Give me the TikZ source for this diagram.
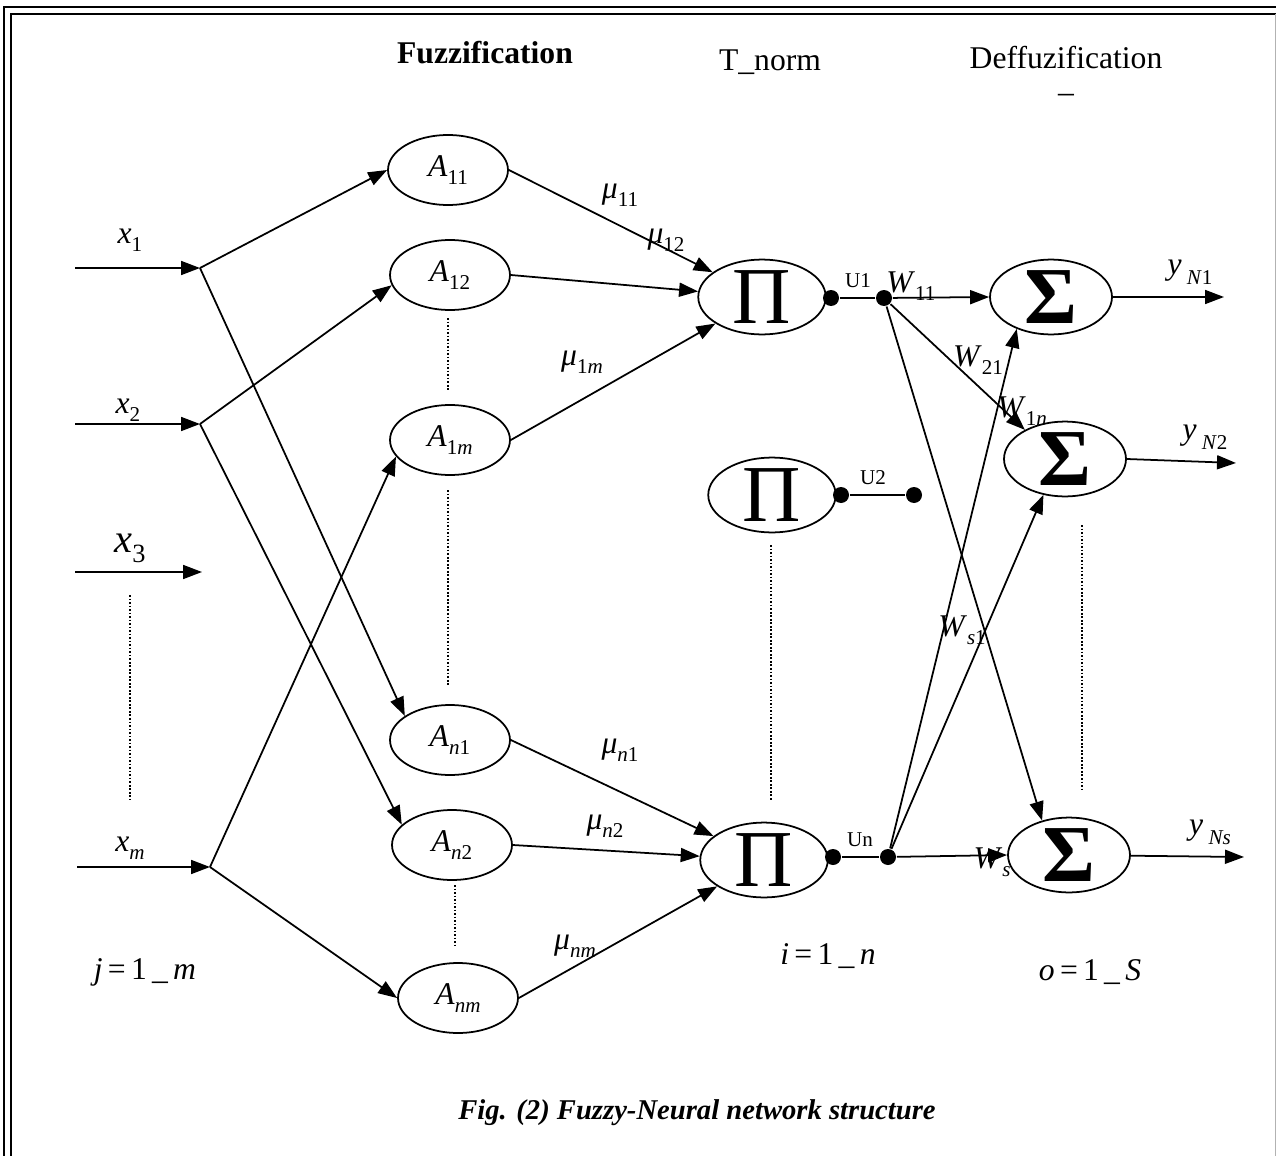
\documentclass[tikz,border=0pt]{standalone}
\usepackage{fontspec}
\setmainfont{Liberation Serif}
\usetikzlibrary{shapes.geometric,arrows.meta}

\newcommand{\isub}[2]{\textit{#1}\raisebox{-0.55ex}{\fontsize{12}{12}\selectfont #2}}

\begin{document}
\begin{tikzpicture}[x=0.02cm,y=-0.02cm,line width=1pt,
  every node/.style={font=\fontsize{18}{20}\selectfont},
  arr/.style={-{Triangle[length=0.38cm,width=0.28cm]}},
  memb/.style={draw,ellipse,fill=white,minimum width=2.4cm,minimum height=1.4cm,inner sep=0},
  prodn/.style={draw,ellipse,fill=white,minimum width=2.55cm,minimum height=1.48cm,inner sep=0,font=\fontsize{46}{46}\selectfont},
  sumn/.style={draw,ellipse,fill=white,minimum width=2.44cm,minimum height=1.4cm,inner sep=0,font=\fontsize{46}{46}\selectfont\bfseries},
  dot/.style={circle,fill,inner sep=0,minimum size=0.32cm},
  small/.style={font=\fontsize{12}{12}\selectfont},
  dotline/.style={line width=0.6pt,dash pattern=on 1pt off 1pt}]
% Fuzzy-neural network: fuzzification, T-norm and defuzzification layers
\useasboundingbox (0,0) rectangle (1276,1156);
\draw[line width=1.7pt] (4,1156) -- (4,7) -- (1276,7);
\draw[line width=1.1pt] (11,1156) -- (11,14) -- (1276,14);
\draw[gray!60,line width=0.5pt] (1275,14) -- (1275,1156);

\node (fuzz) at (485,53) {\textbf{Fuzzification}};
\node (tnorm) at (770,62) {T\_norm};
\node (defuzz) at (1066,58) {Deffuzification};
\node (dash) at (1066,98) {–};

% inputs
\coordinate (s1) at (75,268);
\coordinate (j1) at (200,268);
\coordinate (s2) at (75,424);
\coordinate (j2) at (200,424);
\coordinate (s3) at (75,572);
\coordinate (j3) at (202,572);
\coordinate (sm) at (77,867);
\coordinate (jm) at (210,867);
\node (x1) at (130,240) {\isub{x}{1}};
\node (x2) at (128,410) {\isub{x}{2}};
\node[font=\fontsize{23}{23}\selectfont] (x3) at (130,548) {\textit{x}\raisebox{-0.55ex}{\fontsize{15}{15}\selectfont 3}};
\node (xm) at (130,848) {\isub{x}{\textit{m}}};
\node (jlab) at (145,972) {\textit{j}\,=\,1\,\_\,\textit{m}};
\draw[dotline] (130,595) -- (130,800);

% membership functions
\node[memb] (A11) at (448,170) {\isub{A}{11}};
\node[memb] (A12) at (450,275) {\isub{A}{12}};
\node[memb] (A1m) at (450,440) {\isub{A}{1\textit{m}}};
\node[memb] (An1) at (450,740) {\isub{A}{\textit{n}1}};
\node[memb] (An2) at (452,845) {\isub{A}{\textit{n}2}};
\node[memb] (Anm) at (458,998) {\isub{A}{\textit{nm}}};
\draw[dotline] (448,318) -- (448,390);
\draw[dotline] (448,490) -- (448,685);
\draw[dotline] (455,885) -- (455,948);

\draw[arr] (s1) -- (j1);
\draw[arr] (s2) -- (j2);
\draw[arr] (s3) -- (j3);
\draw[arr] (sm) -- (jm);
\draw[arr] (j1) -- (A11.west);
\draw[arr] (j1) -- (An1.152);
\draw[arr] (j2) -- (A12.190);
\draw[arr] (j2) -- (An2.158);
\draw[arr] (jm) -- (A1m.197);
\draw[arr] (jm) -- (Anm.west);

% T-norm layer
\node[prodn] (P1) at (762,297) {Π};
\node[prodn] (P2) at (772,495) {Π};
\node[prodn] (Pn) at (764,860) {Π};
\draw[dotline] (771,545) -- (771,800);
\node (i) at (828,956) {\textit{i}\,=\,1\,\_\,\textit{n}};

\node (mu11) at (620,195) {\isub{μ}{11}};
\node (mu12) at (666,240) {\isub{μ}{12}};
\node (mu1m) at (582,362) {\isub{μ}{1\textit{m}}};
\node (mun1) at (620,750) {\isub{μ}{\textit{n}1}};
\node (mun2) at (605,826) {\isub{μ}{\textit{n}2}};
\node (munm) at (575,946) {\isub{μ}{\textit{nm}}};
\draw[arr] (A11.east) -- (P1);
\draw[arr] (A12.east) -- (P1);
\draw[arr] (A1m.east) -- (P1);
\draw[arr] (An1.east) -- (Pn);
\draw[arr] (An2.east) -- (Pn);
\draw[arr] (Anm.east) -- (Pn);

\node[dot] (u1a) at (831,298) {};
\node[dot] (u1b) at (884,298) {};
\node[dot] (u2a) at (841,495) {};
\node[dot] (u2b) at (914,495) {};
\node[dot] (una) at (833,857) {};
\node[dot] (unb) at (888,857) {};
\node[small] (U1) at (858,281) {U1};
\node[small] (U2) at (873,478) {U2};
\node[small] (Un) at (860,840) {Un};
\draw (u1a) -- (u1b);
\draw (u2a) -- (u2b);
\draw (una) -- (unb);

% defuzzification layer
\node (W11) at (911,286) {\isub{W}{11}};
\node (W21) at (978,360) {\isub{W}{21}};
\node (W1n) at (1022,411) {\isub{W}{1\textit{n}}};
\node (Ws1) at (962,630) {\isub{W}{\textit{s}1}};
\node (Ws) at (992,862) {\isub{W}{\textit{s}}};
\node[sumn] (S1) at (1051,297) {Σ};
\node[sumn] (S2) at (1065,459) {Σ};
\node[sumn] (Ss) at (1069,855) {Σ};
\draw[dotline] (1082,525) -- (1082,790);
\node (o) at (1090,972) {\textit{o}\,=\,1\,\_\,\textit{S}};

\draw[arr] (u1b) -- (S1.west);
\draw[arr] (u1b) -- (S2.144);
\draw[arr] (u1b) -- (Ss.128);
\draw[arr] (unb) -- (S1.223);
\draw[arr] (unb) -- (S2.239);
\draw[arr] (unb) -- (Ss.west);

\coordinate (o1) at (1224,297);
\coordinate (o2) at (1236,463);
\coordinate (os) at (1244,857);
\node (y1) at (1190,272) {\textit{y}\,\raisebox{-0.7ex}{\fontsize{12}{12}\selectfont\textit{N}1}};
\node (y2) at (1205,437) {\textit{y}\,\raisebox{-0.7ex}{\fontsize{12}{12}\selectfont\textit{N}2}};
\node (ys) at (1210,832) {\textit{y}\,\raisebox{-0.7ex}{\fontsize{12}{12}\selectfont\textit{Ns}}};
\draw[arr] (S1) -- (o1);
\draw[arr] (S2.east) -- (o2);
\draw[arr] (Ss) -- (os);

\node[font=\fontsize{16.3}{18}\selectfont] (cap) at (697,1113) {\textbf{\textit{Fig. (2) Fuzzy-Neural network structure}}};
\end{tikzpicture}
\end{document}
